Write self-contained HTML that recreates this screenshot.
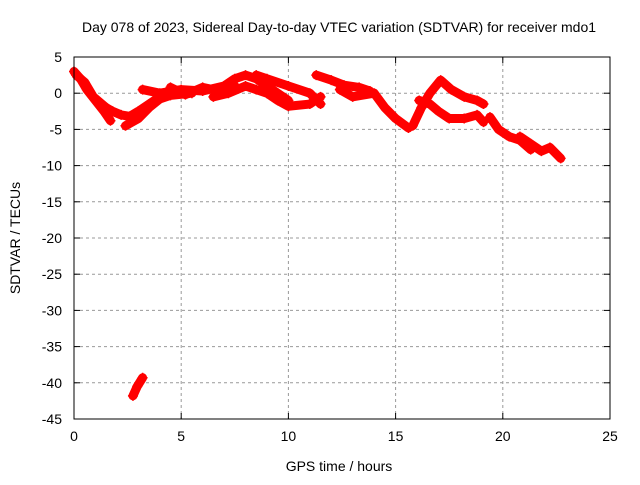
<!DOCTYPE html>
<html><head><meta charset="utf-8"><style>
body{margin:0;background:#fff}
svg text{font-family:"Liberation Sans",sans-serif;font-size:14px;fill:#000}
</style></head><body>
<svg id="c" width="640" height="480">
<rect width="640" height="480" fill="#fff"/>
<text x="339" y="32" text-anchor="middle">Day 078 of 2023, Sidereal Day-to-day VTEC variation (SDTVAR) for receiver mdo1</text>
<text x="339" y="471" text-anchor="middle">GPS time / hours</text>
<text transform="translate(20,238) rotate(-90)" text-anchor="middle">SDTVAR / TECUs</text>
<g id="grid"></g><g id="marks"></g>
<rect x="74" y="57" width="536" height="362" fill="none" stroke="#000"/>
</svg>
<script>
const xTicks=[0,5,10,15,20,25];
const yTicks=[5,0,-5,-10,-15,-20,-25,-30,-35,-40,-45];
const traceA=[[0,3],[0.3,2],[0.6,0.5],[1,-1],[1.4,-2.5],[1.7,-3.8]];
const traceA2=[[0.1,2.5],[0.5,1.5],[0.9,-0.5],[1.3,-1.5],[1.7,-2.5]];
const traceB=[[1.2,-1.5],[1.8,-2.5],[2.2,-3],[2.6,-3.2],[3,-2.5],[3.5,-1.5],[4,-0.5],[4.5,0]];
const traceC=[[2.4,-4.5],[3,-3.5],[3.5,-2],[4,-0.8],[4.5,-0.3],[5.5,0]];
const traceD=[[3.2,0.5],[4,0],[5,0.5],[6,0.3],[7,1],[7.5,2],[8,2.5],[8.5,2],[9,1],[9.5,0],[10,-1]];
const traceD2=[[4.5,0.8],[5.2,-0.2],[6,0.8],[6.8,0.3],[7.5,1]];
const traceE=[[6.5,-0.5],[7.2,0],[8,1],[8.5,0.5],[9,0],[9.5,-1],[10,-1.8],[11,-1.5],[11.5,-0.5]];
const traceF=[[8.5,2.5],[9,2],[10,1],[11,0],[11.5,-1.5]];
const traceG=[[11.3,2.5],[12,1.8],[12.6,1.1],[13.3,0.8],[13.8,0.3]];
const traceH=[[12.4,0.5],[13,-0.5],[14,0],[14.5,-2],[15,-3.5],[15.6,-4.8]];
const traceI=[[15.8,-4.5],[16.2,-2],[16.6,0],[17.1,1.8],[17.6,0.5],[18.2,-0.5],[18.8,-1],[19.1,-1.5]];
const traceJ=[[16.1,-1],[16.6,-1.5],[17,-2.5],[17.5,-3.5],[18.2,-3.5],[18.8,-3],[19.1,-4]];
const traceK=[[19.4,-3.3],[19.8,-5],[20.3,-6],[20.8,-6.5],[21.3,-7.8]];
const traceL=[[20.8,-6],[21.3,-7],[21.8,-8],[22.2,-7.5],[22.7,-9]];
const traceM=[[2.75,-41.8],[2.95,-40.5],[3.2,-39.3]];
const traces=[traceA,traceA2,traceB,traceC,traceD,traceD2,traceE,traceF,traceG,traceH,traceI,traceJ,traceK,traceL,traceM];
const X=h=>74+h*536/25, Y=v=>57+(5-v)*362/50;
const NS="http://www.w3.org/2000/svg";
const g=document.getElementById('grid'), m=document.getElementById('marks'), svg=document.getElementById('c');
function mk(tag,at,p){const e=document.createElementNS(NS,tag);for(const k in at)e.setAttribute(k,at[k]);p.appendChild(e);return e;}
xTicks.forEach(t=>{
 if(t>0&&t<25){const l=mk('line',{x1:X(t),x2:X(t),y1:57,y2:419,stroke:'#999','stroke-dasharray':'3,3'},g);
 
 }
 const tl=mk('text',{x:X(t),y:441,'text-anchor':'middle'},svg);tl.textContent=t;
 
 
 mk('line',{x1:X(t),x2:X(t),y1:419,y2:413,stroke:'#000'},svg);mk('line',{x1:X(t),x2:X(t),y1:57,y2:63,stroke:'#000'},svg);
});
yTicks.forEach(t=>{
 if(t<5&&t>-45){const l=mk('line',{x1:74,x2:610,y1:Y(t),y2:Y(t),stroke:'#999','stroke-dasharray':'3,3'},g);
 
 }
 const tl=mk('text',{x:62,y:Y(t)+5,'text-anchor':'end'},svg);tl.textContent=t;
 
 
 mk('line',{x1:74,x2:80,y1:Y(t),y2:Y(t),stroke:'#000'},svg);mk('line',{x1:610,x2:604,y1:Y(t),y2:Y(t),stroke:'#000'},svg);
});
traces.forEach((tr,i)=>{
 const pl=mk('polyline',{points:tr.map(p=>X(p[0])+','+Y(p[1])).join(' '),fill:'none',stroke:'#f00','stroke-width':9,'stroke-linejoin':'round','stroke-linecap':'round'},m);
 
 
 tr.forEach(p=>{
  const pm=mk('path',{d:`M${X(p[0])-5},${Y(p[1])}h10M${X(p[0])},${Y(p[1])-5}v10`,stroke:'#f00','stroke-width':1.5},m);
  
  
 });
});
</script>
</body></html>
